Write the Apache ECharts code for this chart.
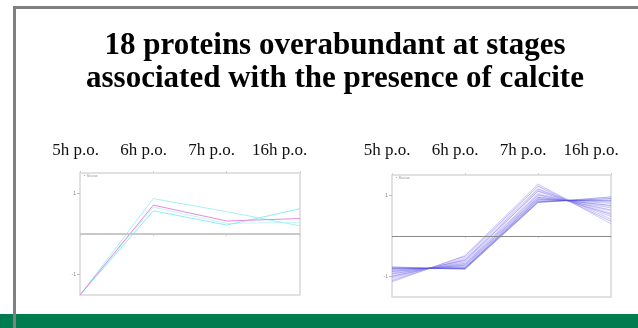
<!DOCTYPE html>
<html>
<head>
<meta charset="utf-8">
<script src="https://cdn.jsdelivr.net/npm/echarts@6/dist/echarts.min.js"></script>
<style>html,body{margin:0;padding:0;background:#fff;}#c{width:638px;height:328px;}</style>
</head>
<body>
<div id="c"></div>
<script>
// ---- data ----
const timepoints = ['5h p.o.', '6h p.o.', '7h p.o.', '16h p.o.'];
const titleLines = ['18 proteins overabundant at stages', 'associated with the presence of calcite'];
const yTickValues = [-1, 1];

// left panel profiles
const leftMagenta = [-1.5, 0.71, 0.32, 0.38];
const leftCyanA = [-1.5, 0.87, 0.55, 0.20];
const leftCyanB = [-1.5, 0.57, 0.22, 0.62];
const leftCyanC = [-1.5, 0.66, 0.26, 0.29];

// right panel profiles (18 proteins)
const r01 = [-1.13, -0.48, 1.28, 0.30];
const r02 = [-1.10, -0.50, 1.22, 0.36];
const r03 = [-1.07, -0.55, 1.24, 0.40];
const r04 = [-1.05, -0.53, 1.17, 0.43];
const r05 = [-1.02, -0.58, 1.15, 0.48];
const r06 = [-0.99, -0.60, 1.10, 0.53];
const r07 = [-0.98, -0.63, 1.12, 0.56];
const r08 = [-0.95, -0.64, 1.05, 0.61];
const r09 = [-0.93, -0.67, 1.02, 0.64];
const r10 = [-0.91, -0.69, 1.00, 0.69];
const r11 = [-0.89, -0.70, 0.97, 0.72];
const r12 = [-0.87, -0.72, 0.95, 0.75];
const r13 = [-0.85, -0.74, 0.92, 0.80];
const r14 = [-0.83, -0.76, 0.91, 0.83];
const r15 = [-0.81, -0.78, 0.89, 0.86];
const r16 = [-0.80, -0.79, 0.86, 0.88];
const r17 = [-0.78, -0.80, 0.84, 0.92];
const r18 = [-0.76, -0.82, 0.82, 0.96];
const rightProfiles = [r01,r02,r03,r04,r05,r06,r07,r08,r09,r10,r11,r12,r13,r14,r15,r16,r17,r18];
const rightColors = ['#9a90f0','#7a74ec','#b4acf4','#d4b0ec','#8480f0','#5c58e0','#a8a0f4','#c0a4ec','#7470ea',
                     '#9090f4','#b8b0f6','#4c48d8','#8c86f0','#a49cf2','#3e3ad0','#6e6ae6','#3434c8','#5854dc'];

// ---- chart ----
const chart = echarts.init(document.getElementById('c'), null, {renderer: 'canvas'});

const grids = [
  {left: 80, top: 173, width: 220, height: 122, show: true, borderColor: '#d8d8d8', borderWidth: 1.5, backgroundColor: '#fff'},
  {left: 392, top: 175, width: 219, height: 122, show: true, borderColor: '#d8d8d8', borderWidth: 1.5, backgroundColor: '#fff'}
];

function xAx(gi, pos) {
  return {
    type: 'category', gridIndex: gi, data: timepoints, boundaryGap: false, position: pos,
    axisLine: {show: false},
    axisTick: {show: true, length: 2, lineStyle: {color: '#cfcfcf'}},
    axisLabel: {show: false}, splitLine: {show: false}
  };
}
function yAx(gi) {
  return {
    type: 'value', gridIndex: gi, min: -1.5, max: 1.5, interval: 0.5,
    axisLine: {show: false},
    axisTick: {show: true, length: 3, customValues: yTickValues, lineStyle: {color: '#bbb'}},
    axisLabel: {show: true, customValues: yTickValues, fontSize: 5, color: '#888', margin: 4,
      formatter: v => String(v)},
    splitLine: {show: false}
  };
}

const series = [];
const leftSet = [
  {d: leftCyanC, c: '#c4f4f8'},
  {d: leftCyanB, c: '#8eecf2'},
  {d: leftCyanA, c: '#a6f0f6'},
  {d: leftMagenta, c: '#e48ae0'}
];
leftSet.forEach((s, i) => {
  const o = {type: 'line', xAxisIndex: 0, yAxisIndex: 0, data: s.d, symbol: 'none',
    lineStyle: {color: s.c, width: 1}, silent: true, z: 3};
  if (i === 0) {
    o.markLine = {silent: true, symbol: ['none','none'], label: {show: false},
      lineStyle: {color: '#c8c8c8', width: 2, type: 'solid'}, data: [{yAxis: 0}]};
  }
  series.push(o);
});
rightProfiles.forEach((d, i) => {
  const o = {type: 'line', xAxisIndex: 2, yAxisIndex: 1, data: d, symbol: 'none',
    lineStyle: {color: rightColors[i], width: 0.8, opacity: 0.6}, silent: true, z: 3};
  if (i === 0) {
    o.markLine = {silent: true, symbol: ['none','none'], label: {show: false},
      lineStyle: {color: '#8a8a8a', width: 1, type: 'solid'}, data: [{yAxis: 0}]};
  }
  series.push(o);
});

const graphics = [
  {type: 'rect', shape: {x: 0, y: 314, width: 638, height: 14}, style: {fill: '#007d50'}, z: 1},
  {type: 'rect', shape: {x: 13, y: 6, width: 625, height: 3}, style: {fill: '#808080'}, z: 2},
  {type: 'rect', shape: {x: 13, y: 6, width: 3, height: 322}, style: {fill: '#808080'}, z: 2},
  {type: 'text', left: 84, top: 174, style: {text: '• Status', fontSize: 4, fill: '#999'}, z: 10},
  {type: 'text', left: 396, top: 176, style: {text: '• Status', fontSize: 4, fill: '#999'}, z: 10}
];
titleLines.forEach((t, i) => {
  graphics.push({type: 'text', x: 335, y: 46 + i * 33, z: 5,
    style: {text: t, fontFamily: 'Liberation Serif', fontWeight: 'bold', fontSize: 31, fill: '#000',
      align: 'center', verticalAlign: 'middle'}});
});
const headerStarts = [75.7, 387];
headerStarts.forEach(x0 => {
  timepoints.forEach((t, i) => {
    graphics.push({type: 'text', x: x0 + i * 68, y: 151, z: 5,
      style: {text: t, fontFamily: 'Liberation Serif', fontSize: 17, fill: '#111',
        align: 'center', verticalAlign: 'middle'}});
  });
});

chart.setOption({
  animation: false,
  backgroundColor: '#fff',
  grid: grids,
  xAxis: [xAx(0, 'bottom'), xAx(0, 'top'), xAx(1, 'bottom'), xAx(1, 'top')],
  yAxis: [yAx(0), yAx(1)],
  series: series,
  graphic: graphics
});
</script>
</body>
</html>
